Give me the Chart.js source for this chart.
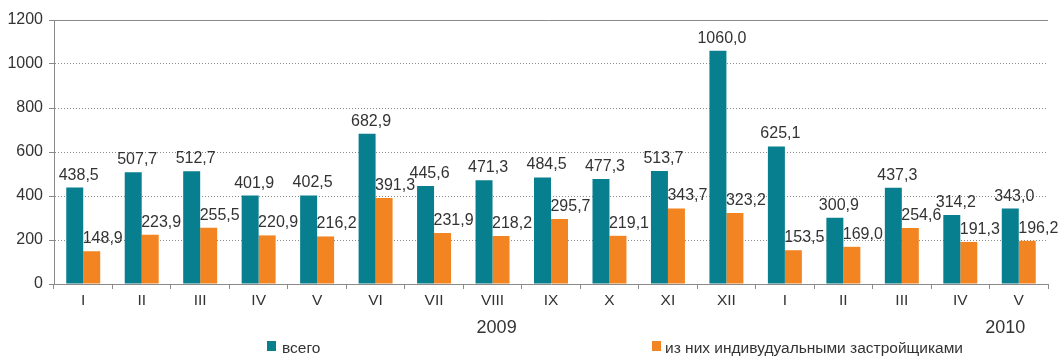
<!DOCTYPE html>
<html>
<head>
<meta charset="utf-8">
<title>Ввод жилья</title>
<script src="https://cdn.jsdelivr.net/npm/chart.js@4/dist/chart.umd.min.js"></script>
<style>
  html, body { margin: 0; padding: 0; background: #fff; }
  #wrap { width: 1060px; height: 356px; }
</style>
</head>
<body>
<div id="wrap"><canvas id="c" width="1060" height="356"></canvas></div>
<script>
// Months (Roman numerals), two years of data
const months = ['I','II','III','IV','V','VI','VII','VIII','IX','X','XI','XII','I','II','III','IV','V'];
const total = [438.5, 507.7, 512.7, 401.9, 402.5, 682.9, 445.6, 471.3, 484.5, 477.3, 513.7, 1060.0, 625.1, 300.9, 437.3, 314.2, 343.0];
const individual = [148.9, 223.9, 255.5, 220.9, 216.2, 391.3, 231.9, 218.2, 295.7, 219.1, 343.7, 323.2, 153.5, 169.0, 254.6, 191.3, 196.2];
const yearLabels = ['2009', '2010'];
const yTicks = [0, 200, 400, 600, 800, 1000, 1200];
const seriesNames = ['всего', 'из них индивудуальными застройщиками'];

const TEAL = '#087f8e';
const ORANGE = '#f38422';
const AXIS = '#8a8a8a';
const TEXT = '#333333';
const FONT = '"Liberation Sans", Arial, sans-serif';

// value labels above each bar, comma as decimal separator
const valueLabels = {
  id: 'valueLabels',
  afterDatasetsDraw(chart) {
    const ctx = chart.ctx;
    ctx.save();
    ctx.font = '16px ' + FONT;
    ctx.fillStyle = TEXT;
    ctx.textAlign = 'center';
    ctx.textBaseline = 'alphabetic';
    chart.data.datasets.forEach((ds, di) => {
      const meta = chart.getDatasetMeta(di);
      const dx = di === 0 ? 4 : 11;
      meta.data.forEach((bar, i) => {
        const txt = ds.data[i].toFixed(1).replace('.', ',');
        ctx.fillText(txt, bar.x + dx, bar.y - 8);
      });
    });
    ctx.restore();
  }
};

// solid frame line along the top of the plot, year captions, legend
const decorations = {
  id: 'decorations',
  afterDraw(chart) {
    const ctx = chart.ctx;
    const area = chart.chartArea;
    const y = chart.scales.y;
    const x = chart.scales.x;
    ctx.save();
    // top line
    const yt = Math.round(y.getPixelForValue(yTicks[yTicks.length - 1])) + 0.5;
    ctx.strokeStyle = AXIS;
    ctx.lineWidth = 1;
    ctx.beginPath();
    ctx.moveTo(area.left - 5, yt);
    ctx.lineTo(area.right, yt);
    ctx.stroke();

    // year captions
    ctx.fillStyle = TEXT;
    ctx.font = '18px ' + FONT;
    ctx.textAlign = 'center';
    ctx.textBaseline = 'alphabetic';
    const anchors = [7.07, 15.77];
    yearLabels.forEach((t, i) => {
      ctx.fillText(t, x.getPixelForValue(anchors[i]), 333);
    });

    // legend
    ctx.font = '15.5px ' + FONT;
    ctx.textAlign = 'left';
    const items = [
      { color: TEAL, sx: 267, tx: 282 },
      { color: ORANGE, sx: 652, tx: 665 }
    ];
    items.forEach((it, i) => {
      ctx.fillStyle = it.color;
      ctx.fillRect(it.sx, 341, 9, 10);
      ctx.fillStyle = TEXT;
      ctx.fillText(seriesNames[i], it.tx, 353);
    });
    ctx.restore();
  }
};

new Chart(document.getElementById('c'), {
  type: 'bar',
  data: {
    labels: months,
    datasets: [
      { label: seriesNames[0], data: total, backgroundColor: TEAL },
      { label: seriesNames[1], data: individual, backgroundColor: ORANGE }
    ]
  },
  options: {
    responsive: false,
    animation: false,
    devicePixelRatio: 1,
    layout: { padding: { left: 0, right: 12, top: 20, bottom: 0 } },
    datasets: { bar: { categoryPercentage: 0.581, barPercentage: 1.0 } },
    plugins: {
      legend: { display: false },
      tooltip: { enabled: false }
    },
    scales: {
      x: {
        grid: {
          offset: true,
          drawOnChartArea: false,
          drawTicks: true,
          tickLength: 5,
          tickColor: AXIS
        },
        border: { color: AXIS, width: 1 },
        ticks: { color: TEXT, font: { family: FONT, size: 15.5 }, padding: 2, maxRotation: 0, autoSkip: false },
        afterFit(s) { s.height = 72; }
      },
      y: {
        min: 0,
        max: 1200,
        afterBuildTicks(s) { s.ticks = yTicks.map(v => ({ value: v })); },
        grid: {
          color: ctx => (ctx.tick && ctx.tick.value === 1200) ? 'rgba(0,0,0,0)' : AXIS,
          tickColor: AXIS,
          tickLength: 5,
          lineWidth: 1
        },
        border: { color: AXIS, width: 1, dash: [1, 2] },
        ticks: {
          color: TEXT,
          font: { family: FONT, size: 16 },
          padding: 6,
          callback: v => String(v)
        },
        afterFit(s) { s.width = 54; }
      }
    }
  },
  plugins: [valueLabels, decorations]
});
</script>
</body>
</html>
